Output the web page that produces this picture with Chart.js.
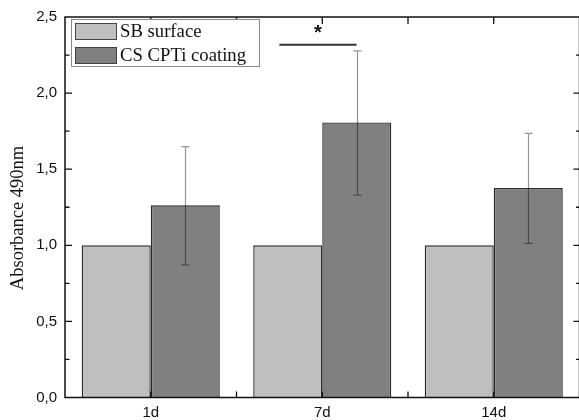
<!DOCTYPE html>
<html>
<head>
<meta charset="utf-8">
<script src="https://cdn.jsdelivr.net/npm/chart.js@4.4.1/dist/chart.umd.min.js"></script>
<style>
  html, body { margin: 0; padding: 0; background: #fff; overflow: hidden; width: 579px; height: 420px; }
  canvas { display: block; }
</style>
</head>
<body>
<canvas id="c" width="584" height="420"></canvas>
<script>
// ---- data ----
const categories = ['1d', '7d', '14d'];
const seriesNames = ['SB surface', 'CS CPTi coating'];
const sbValues = [1.0, 1.0, 1.0];
const csValues = [1.263, 1.807, 1.376];
const csErrUpper = [1.648, 2.277, 1.735];
const csErrLower = [0.871, 1.330, 1.013];
const yTickLabels = ['0,0', '0,5', '1,0', '1,5', '2,0', '2,5'];
const yTickValues = [0, 0.5, 1.0, 1.5, 2.0, 2.5];
const yAxisTitle = 'Absorbance 490nm';
const sigLineX = [1.75, 2.2];
const sigLineY = 2.318;
const sigStarY = 2.418;
const sigStarText = '*';

const SB_COLOR = '#bfbfbf';
const CS_COLOR = '#808080';

const decor = {
  id: 'decor',
  afterDatasetsDraw(chart) {
    const ctx = chart.ctx;
    const xs = chart.scales.x, ys = chart.scales.y;
    const a = chart.chartArea;
    ctx.save();

    // error bars (CS series)
    const meta = chart.getDatasetMeta(1);
    ctx.strokeStyle = 'rgba(0,0,0,0.42)';
    ctx.lineWidth = 1.2;
    meta.data.forEach((el, i) => {
      const x = Math.round(el.x) + 0.5;
      const yt = ys.getPixelForValue(csErrUpper[i]);
      const yb = ys.getPixelForValue(csErrLower[i]);
      ctx.beginPath();
      ctx.moveTo(x, yt); ctx.lineTo(x, yb);
      ctx.moveTo(x - 4, yt); ctx.lineTo(x + 4, yt);
      ctx.moveTo(x - 4, yb); ctx.lineTo(x + 4, yb);
      ctx.stroke();
    });

    // frame
    ctx.strokeStyle = '#111';
    ctx.lineWidth = 1.5;
    ctx.strokeRect(a.left, a.top, a.right - a.left, a.bottom - a.top);

    // inward ticks
    ctx.lineWidth = 1.3;
    ctx.beginPath();
    for (let v = 0; v <= 2.5001; v += 0.25) {
      const y = ys.getPixelForValue(v);
      const major = Math.abs(v / 0.5 - Math.round(v / 0.5)) < 1e-6;
      if (v > 0.001 && v < 2.499) {
        ctx.moveTo(a.left, y); ctx.lineTo(a.left + (major ? 7 : 4.5), y);
        ctx.moveTo(a.right, y); ctx.lineTo(a.right - (major ? 6 : 3.5), y);
      }
    }
    for (let v = 1; v <= 3.0001; v += 0.5) {
      const x = xs.getPixelForValue(v);
      ctx.moveTo(x, a.top); ctx.lineTo(x, a.top + 7);
      ctx.moveTo(x, a.bottom); ctx.lineTo(x, a.bottom - 6);
    }
    ctx.stroke();

    // significance line + star
    ctx.strokeStyle = '#333';
    ctx.lineWidth = 2;
    const sy = ys.getPixelForValue(sigLineY);
    ctx.beginPath();
    ctx.moveTo(xs.getPixelForValue(sigLineX[0]), sy);
    ctx.lineTo(xs.getPixelForValue(sigLineX[1]), sy);
    ctx.stroke();
    ctx.fillStyle = '#111';
    ctx.font = 'bold 20px "Liberation Sans", Arial, sans-serif';
    ctx.textAlign = 'center';
    ctx.textBaseline = 'alphabetic';
    const m = ctx.measureText(sigStarText);
    const starCy = ys.getPixelForValue(sigStarY);
    const base = starCy + (m.actualBoundingBoxAscent - m.actualBoundingBoxDescent) / 2;
    ctx.fillText(sigStarText, xs.getPixelForValue((sigLineX[0] + sigLineX[1]) / 2), base);

    // legend box
    const lx = 71, ly = 19, lw = 188, lh = 47;
    ctx.fillStyle = '#fff';
    ctx.fillRect(lx, ly, lw, lh);
    ctx.strokeStyle = '#8a8a8a';
    ctx.lineWidth = 1;
    ctx.strokeRect(lx + 0.5, ly + 0.5, lw, lh);
    ctx.font = '18.7px "Liberation Serif", "Times New Roman", serif';
    ctx.textAlign = 'left';
    ctx.textBaseline = 'middle';
    chart.data.datasets.forEach((ds, i) => {
      const sy0 = 23 + i * 24;
      ctx.fillStyle = ds.backgroundColor;
      ctx.fillRect(75, sy0, 41, 16);
      ctx.strokeStyle = '#444';
      ctx.strokeRect(75.5, sy0 + 0.5, 41, 16);
      ctx.fillStyle = '#111';
      ctx.fillText(ds.label, 120, sy0 + 9);
    });

    // y axis title
    ctx.save();
    ctx.translate(18, 218);
    ctx.rotate(-Math.PI / 2);
    ctx.font = '18.5px "Liberation Serif", "Times New Roman", serif';
    ctx.textAlign = 'center';
    ctx.textBaseline = 'middle';
    ctx.fillStyle = '#111';
    ctx.fillText(yAxisTitle, 0, 0);
    ctx.restore();

    ctx.restore();
  }
};

new Chart(document.getElementById('c'), {
  type: 'bar',
  data: {
    datasets: [
      {
        label: seriesNames[0],
        data: sbValues.map((v, i) => ({ x: i + 1, y: v })),
        backgroundColor: SB_COLOR,
        borderColor: '#2a2a2a',
        borderWidth: 1.4,
        categoryPercentage: 0.805,
        barPercentage: 1.0
      },
      {
        label: seriesNames[1],
        data: csValues.map((v, i) => ({ x: i + 1, y: v })),
        backgroundColor: CS_COLOR,
        borderColor: '#2a2a2a',
        borderWidth: 1.4,
        categoryPercentage: 0.805,
        barPercentage: 1.0
      }
    ]
  },
  options: {
    responsive: false,
    animation: false,
    devicePixelRatio: 1,
    layout: { padding: { left: 0, top: 14.5, right: 4.5, bottom: 0 } },
    plugins: { legend: { display: false }, tooltip: { enabled: false } },
    scales: {
      x: {
        type: 'linear',
        min: 0.5,
        max: 3.5,
        offset: false,
        grid: { display: false, drawTicks: false, offset: false },
        border: { display: false },
        afterBuildTicks: (s) => { s.ticks = categories.map((c, i) => ({ value: i + 1 })); },
        afterFit: (s) => { s.height = 22.5; },
        ticks: {
          autoSkip: false,
          maxRotation: 0,
          padding: 6,
          color: '#111',
          font: { family: '"Liberation Sans", Arial, sans-serif', size: 15 },
          callback: (v) => categories[Math.round(v) - 1]
        }
      },
      y: {
        type: 'linear',
        min: 0,
        max: 2.5,
        grid: { display: false, drawTicks: false },
        border: { display: false },
        afterBuildTicks: (s) => { s.ticks = yTickValues.map(v => ({ value: v })); },
        afterFit: (s) => { s.width = 65; },
        ticks: {
          padding: 8,
          color: '#111',
          font: { family: '"Liberation Sans", Arial, sans-serif', size: 15 },
          callback: (v, i) => yTickLabels[i]
        }
      }
    }
  },
  plugins: [decor]
});
</script>
</body>
</html>
